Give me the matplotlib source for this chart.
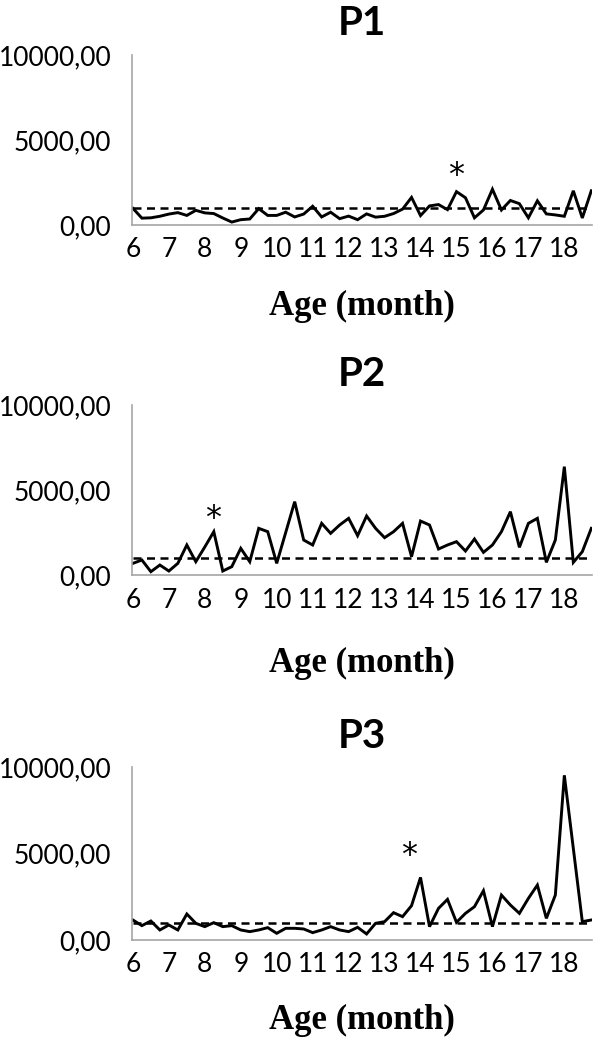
import numpy as np
import matplotlib.pyplot as plt

# weekly values, 6 to ~18.8 months of age (52 points, label every 4th)
p1 = [980, 400, 420, 510, 640, 725, 560, 860, 710, 670,
      410, 170, 310, 350, 960, 560, 560, 750, 470, 640,
      1100, 470, 750, 370, 520, 310, 650, 460, 510, 670,
      930, 1620, 550, 1120, 1200, 900, 1960, 1600, 420, 880,
      2100, 880, 1440, 1250, 420, 1420, 650, 590, 510, 2010,
      410, 2010]
p2 = [686, 882, 196, 588, 235, 686, 1765, 784, 1650, 2549,
      235, 490, 1569, 784, 2745, 2549, 686, 2500, 4314, 2059,
      1765, 3039, 2451, 2941, 3333, 2314, 3471, 2745, 2196, 2549,
      3039, 1078, 3176, 2941, 1529, 1765, 1961, 1412, 2118, 1333,
      1765, 2549, 3725, 1627, 3039, 3333, 745, 2059, 6373, 745,
      1373, 2745]
p3 = [1156, 829, 1098, 578, 867, 578, 1503, 963, 771, 1002,
      771, 829, 578, 482, 578, 713, 385, 674, 674, 636,
      424, 578, 771, 578, 482, 732, 347, 963, 1060, 1580,
      1349, 1985, 3622, 771, 1830, 2351, 1021, 1541, 1927, 2852,
      771, 2601, 2023, 1541, 2408, 3179, 1250, 2601, 9538, 5300,
      1060, 1156]
series = {'P1': p1, 'P2': p2, 'P3': p3}
threshold = 1000
age_labels = [str(m) for m in range(6, 19)]
yticks = [0, 5000, 10000]
ytick_labels = ['0,00', '5000,00', '10000,00']
# where the asterisk sits (week index, value)
stars = {'P1': (36, 2900), 'P2': (8.9, 3350), 'P3': (30.7, 4900)}

fig = plt.figure(figsize=(6, 10.4), dpi=100)

# axes boxes in figure fractions [left, bottom, width, height]
boxes = {'P1': [0.22, 0.7837, 0.767, 0.1635],
         'P2': [0.22, 0.4471, 0.767, 0.1635],
         'P3': [0.22, 0.0962, 0.767, 0.166]}
xlabel_pad = {'P1': 20, 'P2': 25, 'P3': 19}

for name, vals in series.items():
    ax = fig.add_axes(boxes[name])
    x = np.arange(len(vals))
    ax.plot(x, vals, color='black', lw=2.1, solid_joinstyle='miter')
    ax.plot([x[0], x[-1]], [threshold, threshold], color='black', lw=1.8,
            dashes=(3.2, 2.2))
    sx, sy = stars[name]
    ax.text(sx, sy, '*', fontsize=23, ha='center', va='center', family='DejaVu Sans')

    ax.set_xlim(-0.1, 51.1)
    ax.set_ylim(0, 10000)
    ax.set_xticks(np.arange(0, 49, 4))
    ax.set_xticklabels(age_labels, family='Lato', fontsize=19)
    ax.set_yticks(yticks)
    ax.set_yticklabels(ytick_labels, family='Lato', fontsize=19)
    ax.tick_params(axis='y', length=0, pad=15)
    ax.tick_params(axis='x', length=0, pad=9)
    for s in ['top', 'right']:
        ax.spines[s].set_visible(False)
    for s in ['left', 'bottom']:
        ax.spines[s].set_color('#a6a6a6')
        ax.spines[s].set_linewidth(1.2)

    ax.set_title(name, family='Lato', fontweight='bold', fontsize=29, pad=14)
    ax.set_xlabel('Age (month)', family='Liberation Serif', fontweight='bold',
                  fontsize=25, labelpad=xlabel_pad[name])

fig.savefig('out.png', dpi=100, facecolor='white')
